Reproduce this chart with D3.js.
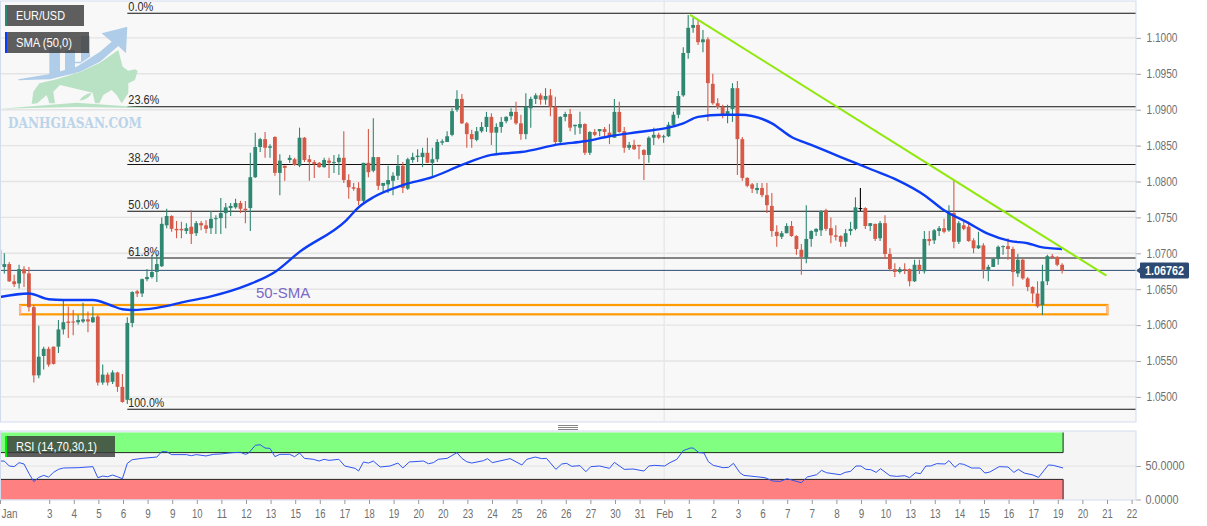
<!DOCTYPE html>
<html>
<head>
<meta charset="utf-8">
<script src="https://cdn.jsdelivr.net/npm/d3@7/dist/d3.min.js"></script>
<style>
html,body{margin:0;padding:0;background:#fff;overflow:hidden}
svg{display:block}
text{font-family:"Liberation Sans",Arial,sans-serif}
</style>
</head>
<body>
<svg id="c" width="1207" height="526"></svg>
<script>
const open = [
1.0705,1.0681,1.0685,1.0661,1.0658,1.0678,1.0672,1.0625,1.0530,1.0557,
1.0567,1.0570,1.0570,1.0594,1.0605,1.0605,1.0604,1.0605,1.0608,1.0604,
1.0612,1.0520,1.0531,1.0521,1.0534,1.0514,1.0496,1.0603,1.0647,1.0644,
1.0664,1.0667,1.0674,1.0682,1.0739,1.0752,1.0734,1.0734,1.0731,1.0737,
1.0728,1.0742,1.0739,1.0735,1.0748,1.0749,1.0756,1.0763,1.0764,1.0770,
1.0762,1.0763,1.0806,1.0848,1.0859,1.0847,1.0862,1.0812,1.0822,1.0830,
1.0831,1.0822,1.0861,1.0831,1.0827,1.0826,1.0820,1.0829,1.0826,1.0827,
1.0833,1.0802,1.0792,1.0791,1.0773,1.0826,1.0815,1.0834,1.0794,1.0796,
1.0801,1.0808,1.0822,1.0790,1.0830,1.0834,1.0834,1.0840,1.0826,1.0831,
1.0854,1.0855,1.0865,1.0900,1.0915,1.0881,1.0866,1.0858,1.0870,1.0876,
1.0890,1.0868,1.0876,1.0884,1.0891,1.0897,1.0881,1.0866,1.0902,1.0915,
1.0920,1.0914,1.0920,1.0904,1.0855,1.0890,1.0894,1.0877,1.0875,1.0880,
1.0840,1.0869,1.0870,1.0873,1.0868,1.0861,1.0897,1.0870,1.0847,1.0851,
1.0851,1.0844,1.0837,1.0861,1.0865,1.0862,1.0863,1.0879,1.0893,1.0920,
1.0979,1.1014,1.1018,1.0994,1.0998,1.0936,1.0909,1.0904,1.0894,1.0901,
1.0930,1.0859,1.0805,1.0796,1.0788,1.0791,1.0781,1.0766,1.0730,1.0723,
1.0728,1.0738,1.0724,1.0705,1.0693,1.0720,1.0730,1.0732,1.0760,1.0735,
1.0725,1.0724,1.0716,1.0731,1.0734,1.0763,1.0763,1.0738,1.0741,1.0721,
1.0742,1.0699,1.0678,1.0674,1.0678,1.0678,1.0661,1.0684,1.0675,1.0720,
1.0718,1.0731,1.0735,1.0732,1.0756,1.0716,1.0739,1.0737,1.0718,1.0707,
1.0711,1.0677,1.0681,1.0692,1.0709,1.0710,1.0706,1.0672,1.0691,1.0665,
1.0653,1.0644,1.0628,1.0661,1.0696,1.0695,1.0684];
const high = [
1.0705,1.0700,1.0688,1.0670,1.0684,1.0682,1.0681,1.0628,1.0599,1.0570,
1.0570,1.0570,1.0607,1.0635,1.0626,1.0621,1.0614,1.0631,1.0619,1.0626,
1.0614,1.0545,1.0534,1.0537,1.0535,1.0532,1.0611,1.0647,1.0649,1.0665,
1.0678,1.0698,1.0699,1.0750,1.0762,1.0753,1.0745,1.0744,1.0742,1.0760,
1.0745,1.0745,1.0746,1.0759,1.0753,1.0777,1.0770,1.0770,1.0776,1.0773,
1.0773,1.0840,1.0868,1.0861,1.0869,1.0852,1.0863,1.0838,1.0822,1.0837,
1.0833,1.0875,1.0862,1.0837,1.0830,1.0827,1.0833,1.0833,1.0837,1.0838,
1.0870,1.0810,1.0798,1.0799,1.0826,1.0873,1.0888,1.0834,1.0798,1.0822,
1.0813,1.0837,1.0827,1.0833,1.0840,1.0845,1.0847,1.0861,1.0847,1.0859,
1.0859,1.0870,1.0902,1.0927,1.0922,1.0883,1.0872,1.0876,1.0883,1.0897,
1.0895,1.0881,1.0890,1.0891,1.0902,1.0911,1.0893,1.0923,1.0918,1.0923,
1.0923,1.0930,1.0929,1.0918,1.0891,1.0897,1.0901,1.0879,1.0897,1.0881,
1.0870,1.0873,1.0873,1.0876,1.0880,1.0915,1.0911,1.0876,1.0855,1.0858,
1.0851,1.0845,1.0863,1.0875,1.0868,1.0865,1.0883,1.0897,1.0926,1.0987,
1.1032,1.1028,1.1025,1.1011,1.1001,1.0950,1.0916,1.0907,1.0907,1.0937,
1.0940,1.0862,1.0806,1.0798,1.0798,1.0798,1.0798,1.0784,1.0739,1.0731,
1.0742,1.0745,1.0725,1.0713,1.0767,1.0732,1.0735,1.0760,1.0762,1.0750,
1.0739,1.0725,1.0734,1.0744,1.0778,1.0791,1.0764,1.0742,1.0741,1.0745,
1.0753,1.0707,1.0686,1.0681,1.0686,1.0679,1.0691,1.0691,1.0731,1.0731,
1.0734,1.0738,1.0748,1.0767,1.0803,1.0745,1.0744,1.0744,1.0721,1.0730,
1.0714,1.0684,1.0693,1.0711,1.0711,1.0721,1.0709,1.0699,1.0692,1.0667,
1.0654,1.0661,1.0684,1.0698,1.0699,1.0696,1.0686];
const low = [
1.0664,1.0672,1.0660,1.0653,1.0651,1.0653,1.0619,1.0520,1.0526,1.0538,
1.0542,1.0545,1.0561,1.0587,1.0582,1.0586,1.0601,1.0603,1.0590,1.0603,
1.0516,1.0517,1.0516,1.0518,1.0507,1.0492,1.0490,1.0597,1.0639,1.0639,
1.0661,1.0665,1.0660,1.0681,1.0735,1.0730,1.0721,1.0721,1.0727,1.0713,
1.0724,1.0732,1.0728,1.0727,1.0727,1.0727,1.0735,1.0752,1.0762,1.0756,
1.0742,1.0731,1.0805,1.0841,1.0833,1.0833,1.0808,1.0781,1.0801,1.0826,
1.0822,1.0820,1.0827,1.0801,1.0805,1.0819,1.0819,1.0805,1.0812,1.0809,
1.0798,1.0776,1.0787,1.0767,1.0769,1.0806,1.0813,1.0788,1.0785,1.0784,
1.0781,1.0802,1.0784,1.0788,1.0826,1.0827,1.0820,1.0826,1.0806,1.0827,
1.0851,1.0855,1.0863,1.0897,1.0880,1.0847,1.0847,1.0856,1.0868,1.0869,
1.0851,1.0837,1.0868,1.0881,1.0886,1.0879,1.0858,1.0859,1.0875,1.0908,
1.0907,1.0907,1.0891,1.0851,1.0852,1.0884,1.0870,1.0865,1.0866,1.0837,
1.0837,1.0863,1.0863,1.0863,1.0852,1.0861,1.0868,1.0840,1.0844,1.0844,
1.0831,1.0802,1.0826,1.0851,1.0859,1.0854,1.0862,1.0876,1.0888,1.0918,
1.0971,1.1007,1.0990,1.0980,1.0884,1.0907,1.0901,1.0888,1.0881,1.0883,
1.0809,1.0801,1.0792,1.0784,1.0783,1.0778,1.0756,1.0723,1.0709,1.0720,
1.0728,1.0723,1.0698,1.0670,1.0686,1.0709,1.0724,1.0724,1.0731,1.0714,
1.0718,1.0709,1.0709,1.0725,1.0732,1.0759,1.0734,1.0731,1.0717,1.0717,
1.0692,1.0675,1.0667,1.0672,1.0671,1.0654,1.0660,1.0671,1.0672,1.0711,
1.0713,1.0724,1.0728,1.0730,1.0707,1.0713,1.0732,1.0716,1.0700,1.0706,
1.0665,1.0661,1.0681,1.0684,1.0698,1.0691,1.0654,1.0667,1.0663,1.0647,
1.0631,1.0624,1.0614,1.0656,1.0693,1.0682,1.0672];
const close = [
1.0684,1.0685,1.0661,1.0657,1.0678,1.0672,1.0625,1.0530,1.0556,1.0567,
1.0545,1.0546,1.0594,1.0604,1.0603,1.0604,1.0607,1.0608,1.0605,1.0611,
1.0520,1.0531,1.0520,1.0534,1.0514,1.0493,1.0603,1.0646,1.0644,1.0664,
1.0667,1.0674,1.0685,1.0741,1.0752,1.0734,1.0732,1.0732,1.0735,1.0727,
1.0742,1.0739,1.0734,1.0748,1.0749,1.0756,1.0764,1.0766,1.0770,1.0762,
1.0760,1.0806,1.0848,1.0859,1.0847,1.0849,1.0812,1.0829,1.0819,1.0833,
1.0823,1.0861,1.0830,1.0827,1.0824,1.0820,1.0830,1.0826,1.0827,1.0833,
1.0802,1.0792,1.0790,1.0773,1.0826,1.0813,1.0834,1.0794,1.0798,1.0802,
1.0808,1.0822,1.0791,1.0831,1.0834,1.0836,1.0840,1.0826,1.0831,1.0855,
1.0856,1.0863,1.0898,1.0915,1.0881,1.0866,1.0859,1.0870,1.0876,1.0890,
1.0868,1.0876,1.0883,1.0890,1.0897,1.0881,1.0866,1.0904,1.0915,1.0920,
1.0914,1.0919,1.0904,1.0855,1.0890,1.0894,1.0875,1.0879,1.0880,1.0840,
1.0869,1.0865,1.0873,1.0869,1.0862,1.0897,1.0869,1.0847,1.0851,1.0845,
1.0849,1.0837,1.0861,1.0865,1.0861,1.0863,1.0879,1.0893,1.0919,1.0979,
1.1014,1.1018,1.0994,1.0998,1.0937,1.0909,1.0904,1.0894,1.0898,1.0930,
1.0859,1.0805,1.0794,1.0790,1.0791,1.0781,1.0767,1.0731,1.0724,1.0728,
1.0738,1.0724,1.0706,1.0695,1.0720,1.0731,1.0734,1.0759,1.0734,1.0725,
1.0723,1.0716,1.0728,1.0734,1.0764,1.0763,1.0738,1.0742,1.0720,1.0742,
1.0699,1.0678,1.0674,1.0678,1.0677,1.0661,1.0684,1.0677,1.0720,1.0717,
1.0732,1.0735,1.0730,1.0756,1.0716,1.0742,1.0734,1.0717,1.0707,1.0711,
1.0677,1.0681,1.0692,1.0709,1.0710,1.0706,1.0674,1.0691,1.0665,1.0653,
1.0644,1.0626,1.0661,1.0696,1.0695,1.0684,1.0676];

const smaBars = [0,6,10,13,19,22.5,25,27,32,38,43,50.5,56,61,70.5,73,76,82,88,94,100,106,114,119,124,130,136,139,142,147,150.5,157,161,165,171,177.5,182.5,188,192,197,201,205.5,209,211.5,216];
const smaValues = [1.0639,1.0644,1.0636,1.0635,1.0635,1.0628,1.0622,1.0621,1.0624,1.0633,1.0640,1.0656,1.0674,1.0702,1.0746,1.0764,1.0778,1.0795,1.0806,1.0823,1.0837,1.0841,1.0852,1.0856,1.0863,1.0869,1.0875,1.0881,1.0890,1.0893,1.0893,1.0881,1.0862,1.0851,1.0834,1.0816,1.0802,1.0781,1.0760,1.0742,1.0727,1.0717,1.0714,1.0709,1.0706];

const rsiBars = [0,1,2,3,4,5,6,7,8,9,10,11,12,13,16,19,20,21,22,23,24,25,26,27,29,32,33,34,35,38,39,40,42,43.5,45,47.5,49,50,50.6,52,53,54,55,56,
57,59,60,61,62,63.8,65,66,67,69,70.2,72.3,73,74,75,76,77.4,79.4,81,82,83.3,86.2,87.2,88.2,89.2,91,93,94,95,96,98.4,99.2,100.2,103.8,106.2,107.2,108.9,110.2,111.2,113.1,114.3,115.3,116.3,118,119.2,120.2,
122,124,125,127,128.8,131,132,133.2,135.2,136.3,137.7,139,140.4,141,142.2,143.2,144.1,145.1,147.1,148.2,149.2,150.5,151.3,153.9,155.6,157.2,158.7,160.1,163,164.2,166.1,167.1,168.1,170.9,171.9,173,174.1,175.1,176.1,177.1,178.2,179.1,181,182.4,
184,185,186.2,187.2,188.3,189.3,190.5,192.2,193,194.2,195.1,196,197.6,199.3,200.3,201.3,203.2,205,206.2,207.1,208.3,210.1,211.2,213.2,214.2,216.2];
const rsiValues = [57.4,57.4,50,49,55,53,39,26.6,33,36,33.5,40.5,45,47,47.5,49,32.6,35,34,36.5,34,31,54,59.4,61.4,63.4,71.4,71.4,67,67,65.4,67,65,67.4,68,70,70.4,67.4,69,80.8,81.8,76.8,76.3,64,
67.4,67.4,63.9,69.4,61.4,60,57.4,60,58.4,60,50,46.5,42.5,56,54.4,57.4,48.5,50,54.4,47,56,57.4,53.4,55,60,61.4,69.9,61.4,56.4,54.4,58,61,55,61,51.5,60,63.4,61,61.4,45,53,54,49.5,50.5,41.5,49,
50,46.5,55.4,45,45.5,42.5,50,51,50,55,60,72.9,76.8,76.8,69.9,69.4,56.4,51,47.5,48,54,40,36,34,32.6,27.6,27,31,25,33.6,37,43.5,40,37,40.5,42,50,50,45,44.5,40.5,46,35.5,34.5,
35.5,32.6,40,38.5,50,50,53.5,53,58,48,53.5,52.5,47,47,39.5,41,49,48.5,40.5,45,39.5,36.5,33,51.5,51,47];

const priceTicks = [1.05,1.055,1.06,1.065,1.07,1.075,1.08,1.085,1.09,1.095,1.10];
const rsiTicks = [0,50];
const tickSlots = [0,2,3,4,5,6,7,8,9,10,11,12,13,14,15,16,17,18,19,20,21,22,23,24,25,26,27,28,29,30,31,32,33,34,35,36,37,38,39,40,41,42,43,44,45,46];
const tickLabels = ["Jan","3","4","5","6","9","9","10","11","12","13","15","16","17","18","19","20","20","23","24","25","26","26","27","30","31","Feb","1","2","3","6","7","7","8","9","10","13","13","14","15","16","17","19","20","21","22"];

const fibHigh = 1.10343, fibLow = 1.04827;
const fibLevels = [0,0.236,0.382,0.5,0.618,1];
const fibStartBar = 26;
const lastPrice = 1.06762;
const trendBars = [140.4,225], trendPrices = [1.1032,1.0669];
const zoneBars = [4.2,225.2], zonePrices = [1.0628,1.0615];
const rsiUpper = 70, rsiLower = 30;

const W=1136, panelTop=1, panelBottom=422, rsiTop=431, rsiBottom=500;
const svg=d3.select("#c");
const x=d3.scaleLinear().domain([0,240]).range([-0.6,1180.2]);
const y=d3.scaleLinear().domain([1.05,1.10]).range([396.9,37.9]);
const r=d3.scaleLinear().domain([0,100]).range([499.5,432.5]);
const GREEN="#2f8771",RED="#d65a48",GRID="#e4e4e4",BORDER="#d3dbef",AXIS="#6f6f6f";

const defs=svg.append("defs");
defs.append("clipPath").attr("id","main").append("rect").attr("x",0).attr("y",panelTop).attr("width",W).attr("height",panelBottom-panelTop);
defs.append("clipPath").attr("id","sub").append("rect").attr("x",0).attr("y",rsiTop).attr("width",W).attr("height",rsiBottom-rsiTop);

svg.append("rect").attr("x",0).attr("y",panelTop).attr("width",W).attr("height",panelBottom-panelTop).attr("fill","#f8f8f8");
svg.append("rect").attr("x",0).attr("y",rsiTop).attr("width",W).attr("height",rsiBottom-rsiTop).attr("fill","#f5f5f5");

// grid
const main=svg.append("g").attr("clip-path","url(#main)");
main.selectAll(".g").data(priceTicks).join("line")
 .attr("x1",0).attr("x2",W).attr("y1",d=>y(d)).attr("y2",d=>y(d)).attr("stroke",GRID).attr("stroke-width",1.4);
const febBar=27*5+0.12;
main.append("line").attr("x1",x(febBar)).attr("x2",x(febBar)).attr("y1",panelTop).attr("y2",panelBottom).attr("stroke","#e8e8e8").attr("stroke-width",1.4);

// watermark
const wm=svg.append("g").attr("transform","scale(0.3333)");
wm.append("path").attr("fill","#b9e2c5").attr("d","M0,326 L230,308 L465,325 L230,321 Z");
wm.append("path").attr("fill","#b9e2c5").attr("d","M95,312 L100,275 L118,250 L170,238 L240,216 L300,188 L355,150 L368,200 L385,212 L405,208 L413,212 L405,240 L385,250 L385,280 L365,310 L350,285 L335,270 L310,285 L298,310 L285,310 L278,278 L180,255 L160,275 L165,310 L148,310 L140,285 L112,310 Z");
wm.append("path").attr("fill","#b9e2c5").attr("d","M238,302 Q250,282 275,278 Q268,298 238,302 Z");
wm.append("path").attr("fill","#afcde8").attr("d","M55,238 L150,222 L230,200 L300,155 L335,125 L305,100 L382,80 L378,160 L355,138 L300,185 L240,215 L150,238 L55,241 Z");
wm.append("path").attr("fill","#afcde8").attr("d","M148,143 L180,143 L180,222 L148,226 Z M195,150 L225,150 L225,212 L195,218 Z M225,185 L243,185 L243,190 L225,190 Z M243,108 L270,108 L270,170 L243,188 Z");
svg.append("text").attr("x",8).attr("y",128).attr("textLength",134).attr("lengthAdjust","spacingAndGlyphs")
 .style("font-family","'DejaVu Serif',serif").style("font-weight","bold").style("font-size","15px").attr("fill","#bcd4e9").text("DANHGIASAN.COM");

// fib lines
const fibPrice=f=>fibHigh-(fibHigh-fibLow)*f;
main.selectAll(".fib").data(fibLevels).join("line")
 .attr("x1",x(fibStartBar)).attr("x2",W).attr("y1",d=>y(fibPrice(d))).attr("y2",d=>y(fibPrice(d))).attr("stroke","#111").attr("stroke-width",1.1);
svg.selectAll(".fibt").data(fibLevels).join("text")
 .attr("x",x(fibStartBar)+1).attr("y",d=>y(fibPrice(d))-2.5).attr("font-size",12).attr("fill","#2a2a2a")
 .attr("textLength",d=>d===0?25:d===1?36:31).attr("lengthAdjust","spacingAndGlyphs")
 .text(d=>(d*100).toFixed(1)+"%");

// zone box
main.append("rect").attr("x",x(zoneBars[0])).attr("y",y(zonePrices[0])).attr("width",x(zoneBars[1])-x(zoneBars[0])).attr("height",y(zonePrices[1])-y(zonePrices[0]))
 .attr("fill","none").attr("stroke","#ff9a00").attr("stroke-width",2.2);
main.selectAll(".ze").data(zoneBars).join("line").attr("x1",d=>x(d)).attr("x2",d=>x(d)).attr("y1",y(zonePrices[0])).attr("y2",y(zonePrices[1])).attr("stroke","#ffb4a0").attr("stroke-width",2);

// last price line
main.append("line").attr("x1",0).attr("x2",W).attr("y1",y(lastPrice)).attr("y2",y(lastPrice)).attr("stroke","#2c4a72").attr("stroke-width",1);

// candles
const bars=d3.range(open.length);
const colorOf=i=>close[i]>open[i]?GREEN:close[i]<open[i]?RED:"#000";
const cg=main.append("g");
cg.selectAll(".w").data(bars).join("line")
 .attr("x1",i=>x(i)).attr("x2",i=>x(i))
 .attr("y1",i=>y(high[i])).attr("y2",i=>y(low[i])).attr("stroke",colorOf).attr("stroke-width",1.1);
cg.selectAll(".b").data(bars).join("rect")
 .attr("x",i=>x(i)-1.9).attr("width",3.8)
 .attr("y",i=>y(Math.max(open[i],close[i]))).attr("height",i=>Math.max(1,y(Math.min(open[i],close[i]))-y(Math.max(open[i],close[i]))))
 .attr("fill",colorOf);

// SMA
const lineGen=d3.line().x(d=>x(d[0])).y(d=>y(d[1])).curve(d3.curveMonotoneX);
main.append("path").attr("d",lineGen(d3.zip(smaBars,smaValues))).attr("fill","none").attr("stroke","#0d3cf5").attr("stroke-width",2.4);

// trend line
main.append("line").attr("x1",x(trendBars[0])).attr("y1",y(trendPrices[0])).attr("x2",x(trendBars[1])).attr("y2",y(trendPrices[1])).attr("stroke","#90e80c").attr("stroke-width",2);

svg.append("text").attr("x",256).attr("y",298).attr("font-size",15).attr("fill","#7b69c6").text("50-SMA");

// price axis
const ax=svg.append("g").attr("transform",`translate(${W},0)`).call(d3.axisRight(y).tickValues(priceTicks).tickFormat(d3.format(".4f")).tickSize(5).tickPadding(4));
ax.select(".domain").remove();
ax.selectAll("line").attr("stroke","#aaa");
ax.selectAll("text").attr("font-size",12).attr("fill",AXIS).attr("textLength",31).attr("lengthAdjust","spacingAndGlyphs").attr("x",10.5);

// last price tag
svg.append("path").attr("fill","#2c4a72").attr("d",`M1136,${y(lastPrice)} L1140,${y(lastPrice)-3} L1140,${y(lastPrice)-7.5} Q1140,${y(lastPrice)-8} 1141,${y(lastPrice)-8} L1188,${y(lastPrice)-8} L1189,${y(lastPrice)-7} L1189,${y(lastPrice)+7} L1188,${y(lastPrice)+8} L1141,${y(lastPrice)+8} L1140,${y(lastPrice)+7} L1140,${y(lastPrice)+3} Z`);
svg.append("text").attr("x",1145).attr("y",y(lastPrice)+4.5).attr("font-size",12).attr("font-weight","bold").attr("fill","#fff").attr("textLength",39).attr("lengthAdjust","spacingAndGlyphs").text(lastPrice.toFixed(5));

// RSI panel
const sub=svg.append("g").attr("clip-path","url(#sub)");
sub.append("line").attr("x1",0).attr("x2",W).attr("y1",r(50)).attr("y2",r(50)).attr("stroke",GRID).attr("stroke-width",1.2);
sub.append("line").attr("x1",x(febBar)).attr("x2",x(febBar)).attr("y1",rsiTop).attr("y2",rsiBottom).attr("stroke","#e8e8e8").attr("stroke-width",1.2);
const lastX=x(open.length-1)+1;
sub.append("rect").attr("x",0).attr("width",lastX).attr("y",r(100)).attr("height",r(rsiUpper)-r(100)).attr("fill","#80ff80");
sub.append("rect").attr("x",0).attr("width",lastX).attr("y",r(rsiLower)).attr("height",r(0)-r(rsiLower)).attr("fill","#ff8080");
sub.selectAll(".rl").data([rsiUpper,rsiLower]).join("line").attr("x1",0).attr("x2",lastX).attr("y1",d=>r(d)).attr("y2",d=>r(d)).attr("stroke","#111").attr("stroke-width",0.9);
[[100,rsiUpper],[rsiLower,0]].forEach(p=>{[0.5,lastX].forEach(xx=>sub.append("line").attr("x1",xx).attr("x2",xx).attr("y1",r(p[0])).attr("y2",r(p[1])).attr("stroke","#222").attr("stroke-width",1));});
const rsiGen=d3.line().x(d=>x(d[0])).y(d=>r(d[1]));
sub.append("path").attr("d",rsiGen(d3.zip(rsiBars,rsiValues))).attr("fill","none").attr("stroke","#2f55f0").attr("stroke-width",1);

const ar=svg.append("g").attr("transform",`translate(${W},0)`).call(d3.axisRight(r).tickValues(rsiTicks).tickFormat(d3.format(".4f")).tickSize(5).tickPadding(4));
ar.select(".domain").remove();
ar.selectAll("line").attr("stroke","#aaa");
ar.selectAll("text").attr("font-size",12).attr("fill",AXIS).attr("x",9.5).attr("textLength",d=>d===0?33:39).attr("lengthAdjust","spacingAndGlyphs");

// borders
[[panelTop,panelBottom],[rsiTop,rsiBottom]].forEach(p=>{
 svg.append("rect").attr("x",0.5).attr("y",p[0]).attr("width",W-0.5).attr("height",p[1]-p[0]).attr("fill","none").attr("stroke",BORDER).attr("stroke-width",1);
});

// time axis
const tickBars=tickSlots.map(k=>k*5+0.12);
const at=svg.append("g").attr("transform",`translate(0,${rsiBottom})`).call(d3.axisBottom(x).tickValues(tickBars).tickFormat((d,i)=>tickLabels[i]).tickSize(4).tickPadding(5));
at.select(".domain").remove();
at.selectAll("line").attr("stroke","#999");
at.selectAll("text").attr("font-size",12.5).attr("fill",AXIS)
 .attr("textLength",(d,i)=>{const s=tickLabels[i];return s.length===1?5.5:s.length===2?10.5:s==="Jan"?16:17}).attr("lengthAdjust","spacingAndGlyphs");
at.selectAll("text").filter((d,i)=>i===0).attr("x",9);

// splitter
svg.selectAll(".sp").data([425.5,427.5,429.5]).join("line").attr("x1",558).attr("x2",578).attr("y1",d=>d).attr("y2",d=>d).attr("stroke","#666").attr("stroke-width",0.8);

// legends
function legend(bx,by,w,text,color){
 svg.append("rect").attr("x",bx).attr("y",by).attr("width",w).attr("height",21).attr("fill","rgba(60,60,60,0.82)");
 svg.append("rect").attr("x",bx).attr("y",by).attr("width",2).attr("height",21).attr("fill",color);
 const tw={"EUR/USD":49,"SMA (50,0)":56,"RSI (14,70,30,1)":81}[text];
 svg.append("text").attr("x",16).attr("y",by+15).attr("font-size",13).attr("fill","#fff").attr("textLength",tw).attr("lengthAdjust","spacingAndGlyphs").text(text);
}
legend(5,5,79,"EUR/USD","#2f8771");
legend(5,32,84,"SMA (50,0)","#0d3cf5");
legend(5,436,110,"RSI (14,70,30,1)","#00ee00");
</script>
</body>
</html>
